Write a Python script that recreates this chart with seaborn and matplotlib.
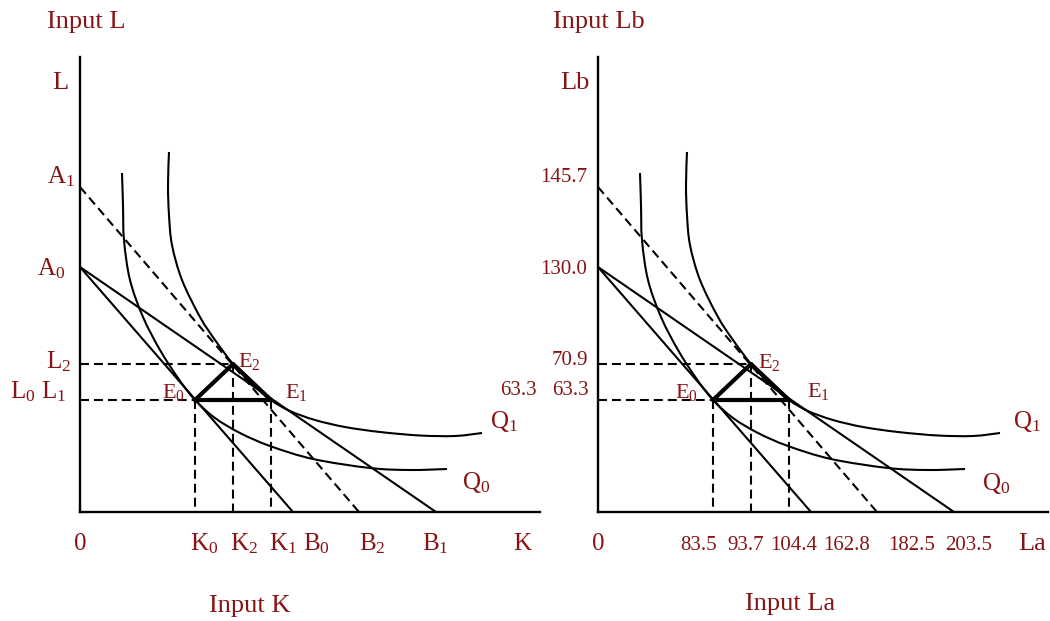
import numpy as np
import matplotlib
matplotlib.use("Agg")
import matplotlib.pyplot as plt
from matplotlib.path import Path
from matplotlib.patches import PathPatch
import seaborn as sns

# ---- schematic input space (same construction in both panels) ----
# vertical intercepts of the isocost lines
A0, A1 = 245, 325
# horizontal intercepts of the isocost lines
B0, B2, B1 = 213, 279, 356
# equilibrium input bundles (horizontal input, vertical input)
E0 = (115, 112)
E2 = (153, 148)
E1 = (191, 112)
# isoquant Q0 (passes through E0)
q0_x = [42, 43, 44, 50, 63, 80, 98, 115, 135, 160, 190, 233, 290, 330, 367]
q0_y = [339, 307, 272, 232, 195, 162, 134, 112, 94, 79, 66, 53, 44, 42, 43]
# isoquant Q1 (passes through E2 and E1)
q1_x = [89, 88, 89, 92, 102, 120, 135, 153, 171, 191, 210, 235, 265, 300, 340, 375, 402]
q1_y = [360, 327, 297, 267, 232, 195, 172, 148, 129, 112, 101, 92, 85, 80, 76.5, 76, 79]

# ---- text ----
left_title, left_xtitle = "Input L", "Input K"
right_title, right_xtitle = "Input Lb", "Input La"
left_xticks = ["0", r"$\mathregular{K_0}$", r"$\mathregular{K_2}$", r"$\mathregular{K_1}$",
               r"$\mathregular{B_0}$", r"$\mathregular{B_2}$", r"$\mathregular{B_1}$", "K"]
right_xticks = ["0", "83.5", "93.7", "104.4", "162.8", "182.5", "203.5", "La"]
left_yticks = ["L", r"$\mathregular{A_1}$", r"$\mathregular{A_0}$", r"$\mathregular{L_2}$",
               r"$\mathregular{L_0}$ $\mathregular{L_1}$"]
right_yticks = ["Lb", "145.7", "130.0", "70.9", "63.3", "63.3"]
point_labels = [r"$\mathregular{E_0}$", r"$\mathregular{E_2}$", r"$\mathregular{E_1}$"]
curve_labels = [r"$\mathregular{Q_1}$", r"$\mathregular{Q_0}$"]

RED = "#861414"

sns.set_theme(style="white")
plt.rcParams["font.family"] = ["Liberation Serif", "DejaVu Serif"]
plt.rcParams["mathtext.fontset"] = "custom"
plt.rcParams["mathtext.rm"] = "Liberation Serif"
plt.rcParams["mathtext.it"] = "Liberation Serif:italic"
plt.rcParams["mathtext.bf"] = "Liberation Serif:bold"

FW, FH = 1050, 621
fig = plt.figure(figsize=(FW / 100, FH / 100), dpi=100)
fig.patch.set_facecolor("white")

AX_H = 455
BASE = 512


def smooth_path(xs, ys):
    """Cubic Bezier path through the given points (Catmull-Rom tangents)."""
    pts = np.column_stack([xs, ys]).astype(float)
    ext = np.vstack([pts[0], pts, pts[-1]])
    verts, codes = [pts[0]], [Path.MOVETO]
    for i in range(1, len(ext) - 2):
        p0, p1, p2, p3 = ext[i - 1], ext[i], ext[i + 1], ext[i + 2]
        verts += [p1 + (p2 - p0) / 6.0, p2 - (p3 - p1) / 6.0, p2]
        codes += [Path.CURVE4] * 3
    return Path(verts, codes)


def seg(ax, xs, ys, lw=1.5, ls="-", z=2):
    sns.lineplot(x=xs, y=ys, ax=ax, color="black", lw=lw, linestyle=ls,
                 estimator=None, sort=False, zorder=z)


DASH = (0, (4.3, 2.4))


def panel(ox, width, xt_pos, xticks, yt_pos, yticks, e_pos, q_pos,
          title, title_pos, xtitle, xtitle_pos):
    ax = fig.add_axes([ox / FW, (FH - BASE) / FH, width / FW, AX_H / FH])
    ax.set_facecolor("white")

    # isocost lines
    seg(ax, [0, B0], [A0, 0])
    seg(ax, [0, B1], [A0, 0])
    seg(ax, [0, B2], [A1, 0], ls=DASH)

    # isoquants
    for xs, ys in ((q0_x, q0_y), (q1_x, q1_y)):
        ax.add_patch(PathPatch(smooth_path(xs, ys), fill=False, lw=1.5,
                               edgecolor="black", zorder=2))

    # guide lines to the axes
    seg(ax, [0, E2[0]], [E2[1], E2[1]], ls=DASH)
    seg(ax, [0, E0[0]], [E0[1], E0[1]], ls=DASH)
    for e in (E0, E2, E1):
        seg(ax, [e[0], e[0]], [e[1], 0], ls=DASH)

    # substitution / output effect triangle
    seg(ax, [E0[0], E2[0]], [E0[1], E2[1]], lw=3, z=4)
    seg(ax, [E0[0], E1[0]], [E0[1], E1[1]], lw=3, z=4)
    seg(ax, [E2[0], E1[0]], [E2[1], E1[1]], lw=3, z=4)

    ax.set_xlim(0, width)
    ax.set_ylim(0, AX_H)
    ax.set_xticks([])
    ax.set_yticks([])
    ax.set_xlabel("")
    ax.set_ylabel("")
    sns.despine(ax=ax)
    for s in ("left", "bottom"):
        ax.spines[s].set_color("black")
        ax.spines[s].set_linewidth(1.7)

    def put(x, y, s, size, ha="left"):
        ax.text(x, y, s, fontsize=size, color=RED, ha=ha, va="baseline",
                clip_on=False)

    for (x, y, sz), s in zip(xt_pos, xticks):
        put(x, y, s, sz, ha="center" if s == "0" else "left")
    for (x, y, sz), s in zip(yt_pos, yticks):
        put(x, y, s, sz)
    for (x, y), s in zip(e_pos, point_labels):
        put(x, y, s, 16)
    for (x, y), s in zip(q_pos, curve_labels):
        put(x, y, s, 18)
    put(title_pos[0], title_pos[1], title, 19)
    put(xtitle_pos[0], xtitle_pos[1], xtitle, 19)
    return ax


# left panel: symbolic labels
panel(80, 460,
      [(0, -38, 18), (110, -38, 18), (150, -38, 18), (189, -38, 18),
       (223, -38, 18), (279, -38, 18), (342, -38, 18), (433, -38, 18)],
      left_xticks,
      [(-28, 423, 19), (-33, 329, 18), (-43, 237, 18), (-34, 144, 18),
       (-70, 114, 18)],
      left_yticks,
      [(82, 114), (158, 145), (205, 114)],
      [(410, 84), (382, 23)],
      left_title, (-33, 484), left_xtitle, (129, -100))

# right panel: numeric labels
panel(598, 450,
      [(0, -38, 18), (82, -38, 15), (129, -38, 15), (172, -38, 15),
       (225, -38, 15), (290, -38, 15), (347, -38, 15), (420, -38, 19)],
      right_xticks,
      [(-38, 423, 19), (-58, 330, 15), (-58, 238, 15), (-46, 147, 15),
       (-98, 117, 15), (-46, 117, 15)],
      right_yticks,
      [(77, 114), (160, 144), (209, 115)],
      [(415, 84), (384, 22)],
      right_title, (-45, 484), right_xtitle, (147, -98))

fig.savefig("out.png", dpi=100, facecolor="white")
